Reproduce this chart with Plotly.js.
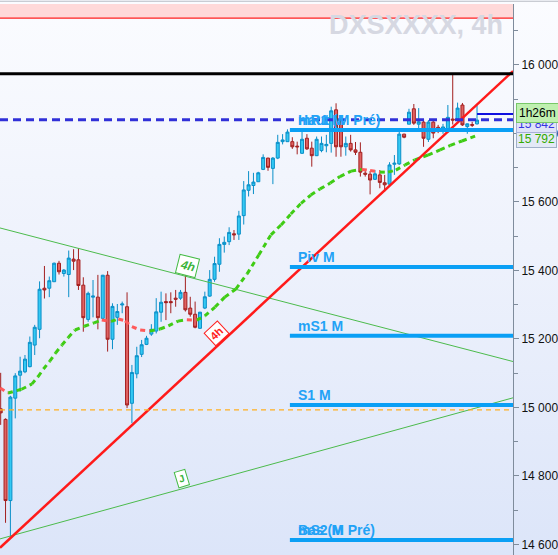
<!DOCTYPE html>
<html><head><meta charset="utf-8">
<script src="https://cdn.plot.ly/plotly-3.0.1.min.js"></script>
<style>
html,body{margin:0;padding:0;}
body{width:558px;height:555px;overflow:hidden;background:linear-gradient(to bottom,#fbfcff 0%,#eef2fc 45%,#dce5f9 100%);}
#chart{width:558px;height:555px;}
</style>
</head><body><div id="chart"></div>
<script>
// ---- candle data (4h, price) ----
const open = [14996,14965,14728,15027,15094,15104,15119,15182,15228,15348,
 15348,15367,15421,15391,15388,15433,15431,15357,15257,15322,
 15322,15260,15386,15199,15263,15299,15294,15012,15098,15155,
 15184,15214,15223,15278,15309,15309,15319,15319,15336,15290,
 15272,15231,15290,15325,15374,15418,15476,15484,15507,15506,
 15560,15634,15648,15659,15695,15728,15698,15728,15776,15776,
 15776,15763,15742,15786,15757,15735,15750,15764,15771,15869,
 15834,15761,15771,15752,15745,15684,15681,15666,15679,15656,
 15652,15710,15711,15798,15827,15872,15827,15833,15783,15833,
 15818,15807,15805,15842,15842,15883,15820,15826,15828];
const high = [15101,14968,15034,15100,15148,15153,15207,15241,15368,15413,
 15382,15423,15428,15404,15458,15462,15465,15380,15338,15372,
 15387,15387,15398,15304,15302,15309,15336,15124,15177,15197,
 15209,15243,15319,15338,15333,15336,15343,15343,15387,15323,
 15309,15279,15338,15401,15440,15494,15499,15526,15518,15574,
 15661,15690,15685,15688,15739,15729,15731,15796,15798,15812,
 15789,15776,15805,15798,15776,15791,15791,15796,15878,15888,
 15842,15791,15796,15775,15774,15696,15690,15693,15693,15679,
 15716,15737,15805,15799,15872,15886,15874,15842,15839,15836,
 15825,15828,15883,15971,15890,15889,15829,15834,15882];
const low = [14949,14663,14623,14968,15046,15100,15117,15153,15202,15318,
 15322,15367,15388,15382,15322,15401,15343,15221,15250,15263,
 15228,15255,15163,15170,15241,15275,14998,14954,15085,15147,
 15182,15209,15216,15250,15255,15275,15294,15314,15280,15265,
 15231,15229,15287,15323,15367,15396,15452,15474,15489,15489,
 15534,15616,15623,15659,15693,15691,15652,15725,15768,15776,
 15755,15739,15740,15752,15703,15734,15745,15745,15744,15732,
 15732,15735,15747,15737,15674,15674,15622,15664,15640,15630,
 15650,15679,15708,15786,15827,15825,15815,15761,15775,15786,
 15801,15799,15801,15826,15836,15822,15799,15819,15826];
const close = [14984,14728,15030,15092,15106,15141,15190,15234,15345,15343,
 15370,15421,15396,15401,15436,15427,15356,15262,15333,15325,
 15262,15386,15199,15295,15280,15302,15007,15102,15151,15183,
 15202,15228,15279,15307,15306,15306,15316,15336,15285,15272,
 15234,15278,15323,15374,15420,15476,15482,15511,15504,15559,
 15635,15650,15658,15685,15730,15701,15728,15774,15781,15804,
 15761,15761,15783,15755,15735,15783,15771,15768,15866,15761,
 15761,15771,15752,15745,15687,15681,15664,15682,15657,15650,
 15708,15713,15798,15789,15862,15830,15834,15786,15833,15801,
 15815,15819,15847,15839,15874,15825,15828,15824,15839];

// ---- moving average (read points: bar position, price) ----
const maX = [-0.1,1.5,4.3,6.4,7.7,8.8,10.1,11.3,12.6,13.9,15.3,17.2,19.2,20.8,22.7,24.2,25.6,27,28.7,30.7,32.8,34.5,36.5,38.3,40.3,42,44.1,46.1,48.4,50.7,53.1,55.6,57.7,59.7,61.8,63.8,65.7,67.8,69.8,72.1,74.3,76,78,79.7,81.3,83.2,85.2,87.9,90.4,92.5,94.9,97.6];
const maY = [15057,15042,15053,15068,15090,15112,15135,15159,15182,15204,15226,15237,15247,15255,15251,15258,15253,15236,15226,15223,15229,15238,15252,15256,15255,15267,15293,15322,15346,15390,15445,15504,15533,15565,15596,15620,15638,15655,15674,15690,15695,15692,15687,15687,15693,15708,15723,15737,15752,15765,15778,15792];

// ---- trend lines (bar position, price) ----
const redTrendX = [-0.14, 105.4];   const redTrendY = [14590, 15982];
const greenDownX = [-0.14, 105.4];  const greenDownY = [15524, 15134];
const greenUpX = [-0.14, 105.4];    const greenUpY = [14616, 15028];

// ---- horizontal levels ----
const levelNames = ["Haut (M Pré)", "Piv M", "mS1 M", "S1 M", "Bas (M Pré)"];
const levelOverlay = ["mR1 M", "", "", "", "mS2 M"];
const levelValues = [15810, 15410, 15209, 15007, 14613];
const levelStart = 59.5;
const blackLevel = 15974;
const redLevel = 16137;
const dashedBlueLevel = 15840;
const orangeLevel = 14993;
const lastPriceLevel = 15857;
const lastPriceStart = 98;
const priceLabel = "15 842";
const priceLabelValue = 15828;
const maLabel = "15 792";
const maLabelValue = 15790;
const timerLabel = "1h26m";
const timerValue = 15860;

const xRange = [-0.14, 105.4];
const yRange = [14569, 16178];

const xs = open.map((_, i) => i);

// MA split into rising (green) and falling (red) segments
const gX = [], gY = [], rX = [], rY = [];
for (let i = 0; i < maX.length - 1; i++) {
  const down = maY[i + 1] < maY[i];
  const tx = down ? rX : gX, ty = down ? rY : gY;
  tx.push(maX[i], maX[i + 1], null);
  ty.push(maY[i], maY[i + 1], null);
}

const traces = [
  {type: 'scatter', mode: 'lines', x: greenDownX, y: greenDownY, line: {color: '#4cbb4c', width: 1}, hoverinfo: 'skip'},
  {type: 'scatter', mode: 'lines', x: greenUpX, y: greenUpY, line: {color: '#4cbb4c', width: 1}, hoverinfo: 'skip'},
  {type: 'scatter', mode: 'lines', x: gX, y: gY, connectgaps: false, line: {color: '#3fcc14', width: 3, dash: '5px,4px'}, hoverinfo: 'skip'},
  {type: 'scatter', mode: 'lines', x: rX, y: rY, connectgaps: false, line: {color: '#ff5a5a', width: 3, dash: '5px,4px'}, hoverinfo: 'skip'},
  {type: 'candlestick', x: xs, open: open, high: high, low: low, close: close,
   increasing: {line: {color: '#0a8fc8', width: 1}, fillcolor: '#33c9f3'},
   decreasing: {line: {color: '#a31f1f', width: 1}, fillcolor: '#e06262'},
   whiskerwidth: 0, hoverinfo: 'skip'},
  {type: 'scatter', mode: 'lines', x: redTrendX, y: redTrendY, line: {color: '#ff1a1a', width: 2.5}, hoverinfo: 'skip'}
];

const shapes = [
  {type: 'rect', xref: 'paper', x0: 0, x1: 1, yref: 'y', y0: redLevel, y1: yRange[1], fillcolor: '#ffd9d9', line: {width: 0}, layer: 'below'},
  {type: 'line', xref: 'paper', x0: 0, x1: 1, yref: 'y', y0: redLevel, y1: redLevel, line: {color: '#ff2020', width: 1.2}},
  {type: 'line', xref: 'paper', x0: 0, x1: 1, yref: 'y', y0: orangeLevel, y1: orangeLevel, line: {color: '#ffb020', width: 1.3, dash: '5px,4px'}},
  {type: 'line', xref: 'paper', x0: 0, x1: 1, yref: 'y', y0: blackLevel, y1: blackLevel, line: {color: '#000000', width: 3}},
  {type: 'line', xref: 'paper', x0: 0, x1: 1, yref: 'y', y0: dashedBlueLevel, y1: dashedBlueLevel, line: {color: '#3030d8', width: 3, dash: '8px,5px'}},
  {type: 'line', xref: 'x', x0: lastPriceStart, x1: xRange[1], yref: 'y', y0: lastPriceLevel, y1: lastPriceLevel, line: {color: '#1010e0', width: 2}},
  {type: 'line', xref: 'paper', x0: 0, x1: 1.09, yref: 'paper', y0: 1.005, y1: 1.005, line: {color: '#b8bcc4', width: 1}}
];
levelValues.forEach(v => shapes.push({type: 'line', xref: 'x', x0: levelStart, x1: xRange[1], yref: 'y', y0: v, y1: v, line: {color: '#0a9ff5', width: 4}}));

const lblFont = {family: 'Liberation Sans, Arial, sans-serif', size: 14, color: '#22a2f6', weight: 'bold'};
const annotations = [];
levelNames.forEach((n, i) => {
  annotations.push({xref: 'x', yref: 'y', x: levelStart + 1.2, y: levelValues[i], text: n, showarrow: false, xanchor: 'left', yanchor: 'bottom', yshift: 0, font: lblFont});
  if (levelOverlay[i]) annotations.push({xref: 'x', yref: 'y', x: levelStart + 1.2, y: levelValues[i], text: levelOverlay[i], showarrow: false, xanchor: 'left', yanchor: 'bottom', yshift: 0, font: lblFont});
});
// trend-line tags
annotations.push({xref: 'x', yref: 'y', x: 38.5, y: 15413, text: '<i>4h</i>', showarrow: false, textangle: 14, bordercolor: '#44bb44', borderwidth: 1, borderpad: 2, bgcolor: '#ffffff', font: {family: 'Liberation Sans, Arial', size: 12, color: '#3cb43c', weight: 'bold'}});
annotations.push({xref: 'x', yref: 'y', x: 44.5, y: 15217, text: '4h', showarrow: false, textangle: -43, bordercolor: '#ff2020', borderwidth: 1, borderpad: 2, bgcolor: '#ffffff', font: {family: 'Liberation Sans, Arial', size: 11, color: '#ff2020', weight: 'bold'}});
annotations.push({xref: 'x', yref: 'y', x: 37.3, y: 14791, text: 'J', showarrow: false, textangle: -17, bordercolor: '#44bb44', borderwidth: 1, borderpad: 2, bgcolor: '#ffffff', font: {family: 'Liberation Sans, Arial', size: 10, color: '#3cb43c', weight: 'bold'}});
// watermark
annotations.push({xref: 'paper', yref: 'paper', x: 0.985, y: 0.993, xanchor: 'right', yanchor: 'top', text: 'DXSXXXX, 4h', showarrow: false, font: {family: 'Liberation Sans, Arial', size: 27, color: '#d6d8e2', weight: 'bold'}});
// right-side price tags
const tagX = 516 / 513;
annotations.push({xref: 'paper', yref: 'y', x: tagX, y: maLabelValue, yshift: -2, xanchor: 'left', text: maLabel, showarrow: false, bgcolor: '#e3e9f6', bordercolor: '#9fb0c8', borderwidth: 1, borderpad: 1, font: {family: 'Liberation Sans, Arial', size: 12, color: '#33aa00'}});
annotations.push({xref: 'paper', yref: 'y', x: tagX, y: priceLabelValue, xanchor: 'left', text: priceLabel, showarrow: false, bgcolor: '#dfe2f8', bordercolor: '#a8b0d8', borderwidth: 1, borderpad: 1, font: {family: 'Liberation Sans, Arial', size: 12, color: '#3535e0'}});
annotations.push({xref: 'paper', yref: 'y', x: tagX, y: timerValue, xanchor: 'left', text: timerLabel, showarrow: false, bgcolor: '#bff0b0', bordercolor: '#78c868', borderwidth: 1, borderpad: 2, font: {family: 'Liberation Sans, Arial', size: 12, color: '#000000'}});

const layout = {
  width: 558, height: 555,
  margin: {l: 0, r: 45, t: 4, b: 0, pad: 0},
  paper_bgcolor: 'rgba(0,0,0,0)', plot_bgcolor: 'rgba(0,0,0,0)',
  showlegend: false, separators: '. ', boxgap: 0.12,
  xaxis: {range: xRange, visible: false, rangeslider: {visible: false}, fixedrange: true},
  yaxis: {range: yRange, side: 'right', showgrid: false, zeroline: false, showline: true, linecolor: '#7f8c9c', linewidth: 1,
          ticks: 'outside', ticklen: 5, tickcolor: '#7f8c9c', dtick: 200, tick0: 0, tickformat: ',d',
          minor: {dtick: 100, ticks: 'outside', ticklen: 4, tickcolor: '#7f8c9c', showgrid: false},
          tickfont: {family: 'Liberation Sans, Arial, sans-serif', size: 12, color: '#111111'}, fixedrange: true},
  shapes: shapes, annotations: annotations
};
Plotly.newPlot('chart', traces, layout, {staticPlot: true, displayModeBar: false});
</script></body></html>
